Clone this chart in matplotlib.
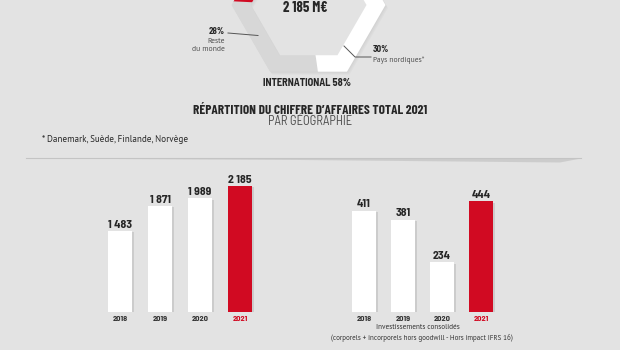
"""
Chiffre d'affaires 2021 par géographie + CA et investissements 2018-2021
"""

import numpy as np
import matplotlib.pyplot as plt
from matplotlib.patches import Wedge, PathPatch, Polygon
from matplotlib.path import Path
import matplotlib.patheffects as pe


# ----------------------------------------------------------
# Data
# ----------------------------------------------------------

total_ca = "2 185 M€"
geo_labels = ["France", "Reste\ndu monde", "Pays nordiques*"]
geo_shares = [42, 28, 30]          # %
international_share = 58

years = ["2018", "2019", "2020", "2021"]
ca_values = [1483, 1871, 1989, 2185]
invest_values = [411, 381, 234, 444]

# ----------------------------------------------------------
# Style
# ----------------------------------------------------------

BG = "#e3e3e3"
RED = "#d10a22"
DARK = "#262626"
RING_GREY = "#d7d7d7"
FONT = ["Barlow Condensed", "DejaVu Sans"]
SEMI = ["Barlow Semi Condensed", "Barlow Condensed", "DejaVu Sans"]
SMALL = ["PT Sans", "Barlow", "DejaVu Sans"]

plt.rcParams["font.family"] = FONT

fig = plt.figure(figsize=(6.2, 3.5), dpi=100, facecolor=BG)

# full-figure axes in pixel units for the infographic part
ax0 = fig.add_axes([0, 0, 1, 1])
ax0.set_xlim(0, 620)
ax0.set_ylim(350, 0)
ax0.axis("off")
ax0.set_facecolor(BG)


# ----------------------------------------------------------
# Hexagonal ring (share by geography)
# ----------------------------------------------------------

def hexagon(cx, cy, r):
    ang = np.radians(np.arange(0, 360, 60))
    return np.column_stack([cx + r * np.cos(ang), cy + r * np.sin(ang)])


cx, cy = 308.5, 5
r_out, r_in = 77, 58

outer = hexagon(cx, cy, r_out)
inner = hexagon(cx, cy, r_in)[::-1]
verts = np.vstack([outer, outer[:1], inner, inner[:1]])
codes = ([Path.MOVETO] + [Path.LINETO] * 5 + [Path.CLOSEPOLY]) * 2
ring = Path(verts, codes)

# soft shadow under the ring (a few faint offset layers)
for k in range(1, 4):
    ax0.add_patch(PathPatch(Path(verts + [0.8 * k, 1.0 * k], codes),
                            facecolor="#8c8c8c", edgecolor="none",
                            alpha=0.06, zorder=1))

ring_patch = PathPatch(ring, facecolor="none", edgecolor="none", zorder=2)
ax0.add_patch(ring_patch)

# order around the ring: gray (reste du monde) from the bottom to the left,
# then red (France) over the top, then white (pays nordiques)
seg_colors = {"France": RED, "Reste\ndu monde": RING_GREY, "Pays nordiques*": "white"}
order = ["Reste\ndu monde", "France", "Pays nordiques*"]
theta = 82.0
for name in order:
    span = geo_shares[geo_labels.index(name)] * 3.6
    w = Wedge((cx, cy), 200, theta, theta + span, facecolor=seg_colors[name],
              edgecolor="none", zorder=3)
    ax0.add_patch(w)
    w.set_clip_path(ring_patch)
    theta += span

ax0.text(cx - 3, 7.5, total_ca, ha="center", va="center", fontsize=10.5,
         fontweight="bold", color=DARK, zorder=5)

# Reste du monde label
ax0.text(225, 31, f"{geo_shares[1]}%", ha="right", va="center", fontsize=6.5,
         fontweight="bold", color=DARK, family=SEMI)
ax0.text(225, 45.5, geo_labels[1], ha="right", va="center", fontsize=5.5,
         color="#505050", linespacing=1.15, family=SMALL)
ax0.plot([228, 258], [33, 35.5], color="#555555", lw=0.7, zorder=6)

# Pays nordiques label
ax0.text(373, 50, f"{geo_shares[2]}%", ha="left", va="center", fontsize=6.5,
         fontweight="bold", color=DARK, family=SEMI)
ax0.text(373, 60, geo_labels[2], ha="left", va="center", fontsize=5.5,
         color="#505050", family=SMALL)
ax0.plot([344, 355, 371], [46, 57, 57], color="#555555", lw=0.7, zorder=6)

ax0.text(307, 82.5, f"INTERNATIONAL {international_share}%", ha="center",
         va="center", fontsize=7.5, fontweight="bold", color=DARK, family=SEMI)

# ----------------------------------------------------------
# Titles
# ----------------------------------------------------------

ax0.text(310, 109.5, "RÉPARTITION DU CHIFFRE D’AFFAIRES TOTAL 2021",
         ha="center", va="center", fontsize=9.5, fontweight="bold", color=DARK)
ax0.text(310, 121.5, "PAR GÉOGRAPHIE", ha="center", va="center",
         fontsize=9, fontweight="normal", color="#4d4d4d", family=SEMI)
ax0.text(42, 139.5, "* Danemark, Suède, Finlande, Norvège", ha="left",
         va="center", fontsize=6.5, color=DARK, family=SMALL)

# separator with a shadow that thickens to the right
ax0.add_patch(Polygon([[26, 158.5], [581, 158.5], [560, 162.5], [300, 160]],
                      closed=True, facecolor="#9a9a9a", edgecolor="none",
                      alpha=0.3))
ax0.plot([26, 581], [158, 158], color="#c4c4c4", lw=0.8)


# ----------------------------------------------------------
# Bar charts
# ----------------------------------------------------------

def px_axes(left, right, top, bottom):
    return fig.add_axes([left / 620, 1 - bottom / 350,
                         (right - left) / 620, (bottom - top) / 350])


def bar_chart(ax, values, ylim, width):
    x = np.arange(len(years))
    colors = ["white"] * (len(values) - 1) + [RED]
    bars = ax.bar(x, values, width=width, color=colors, edgecolor="none",
                  zorder=2)
    for b in bars:
        b.set_path_effects([pe.SimplePatchShadow(offset=(1.0, -1.0),
                                                 shadow_rgbFace="#8a8a8a",
                                                 alpha=0.25), pe.Normal()])
    labels = [f"{v:,}".replace(",", " ") for v in values]
    ax.bar_label(bars, labels=labels, padding=1.0, fontsize=8.5,
                 fontweight="bold", color=DARK, family=SEMI)
    ax.set_xlim(-0.5, len(years) - 0.5)
    ax.set_ylim(*ylim)
    ax.set_xticks(x)
    ax.set_xticklabels(years, fontsize=6, fontweight="bold", family=SEMI)
    for lab, c in zip(ax.get_xticklabels(), colors):
        lab.set_color(RED if c == RED else "#333333")
    ax.tick_params(axis="x", length=0, pad=3.0)
    ax.set_yticks([])
    for s in ax.spines.values():
        s.set_visible(False)
    ax.patch.set_alpha(0)


ax1 = px_axes(100, 260, 170, 312)
bar_chart(ax1, ca_values, (218, 2433), 0.62)

ax2 = px_axes(344.5, 500.5, 170, 312)
bar_chart(ax2, invest_values, (62, 552), 0.64)

ax0.text(418, 327.5, "Investissements consolidés", ha="center", va="center",
         fontsize=5.2, color="#333333", family=SMALL)
ax0.text(422, 338, "(corporels + incorporels hors goodwill - Hors impact IFRS 16)",
         ha="center", va="center", fontsize=5.0, color="#333333", family=SMALL)

fig.savefig("out.png", dpi=100, facecolor=BG)
